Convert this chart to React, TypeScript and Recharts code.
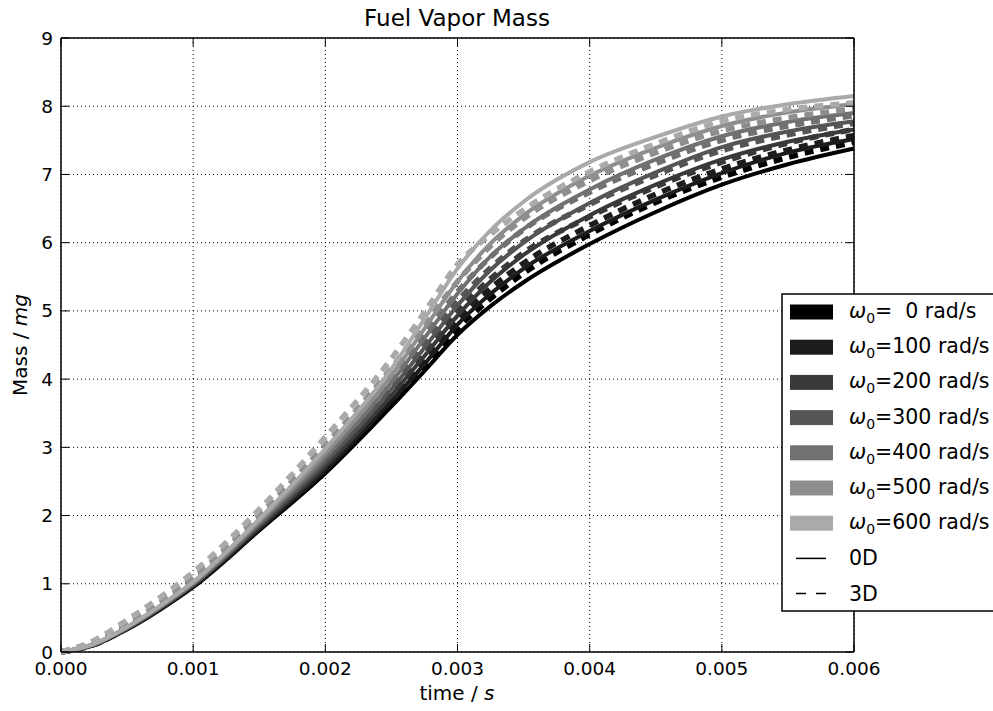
import { LineChart, Line, XAxis, YAxis, CartesianGrid, ReferenceLine } from 'recharts';

// time in seconds
const TIME = [0, 0.00025, 0.0005, 0.00075, 0.001, 0.0015, 0.002, 0.0025, 0.00275, 0.003, 0.00325, 0.0035, 0.004, 0.0045, 0.005, 0.0055, 0.006];

const OMEGAS = [0, 100, 200, 300, 400, 500, 600];
const GRAYS = ['#000000', '#1c1c1c', '#393939', '#555555', '#717171', '#8e8e8e', '#aaaaaa'];

// 0D model, fuel vapor mass in mg
const MASS_0D_W0 = [0, 0.10, 0.33, 0.62, 0.95, 1.78, 2.62, 3.60, 4.12, 4.65, 5.07, 5.42, 5.98, 6.45, 6.85, 7.15, 7.38];
const MASS_0D_W100 = [0, 0.10, 0.34, 0.63, 0.96, 1.80, 2.66, 3.68, 4.22, 4.80, 5.25, 5.62, 6.17, 6.63, 7.02, 7.32, 7.52];
const MASS_0D_W200 = [0, 0.11, 0.34, 0.64, 0.98, 1.83, 2.72, 3.76, 4.34, 4.93, 5.43, 5.82, 6.40, 6.85, 7.22, 7.48, 7.66];
const MASS_0D_W300 = [0, 0.11, 0.35, 0.65, 0.99, 1.86, 2.78, 3.85, 4.46, 5.08, 5.60, 6.00, 6.58, 7.03, 7.40, 7.63, 7.78];
const MASS_0D_W400 = [0, 0.11, 0.36, 0.66, 1.00, 1.89, 2.85, 3.95, 4.60, 5.25, 5.80, 6.20, 6.78, 7.22, 7.56, 7.77, 7.90];
const MASS_0D_W500 = [0, 0.12, 0.36, 0.67, 1.02, 1.92, 2.91, 4.05, 4.74, 5.43, 5.99, 6.40, 6.98, 7.39, 7.71, 7.91, 8.03];
const MASS_0D_W600 = [0, 0.12, 0.37, 0.68, 1.03, 1.95, 2.98, 4.15, 4.88, 5.62, 6.18, 6.60, 7.18, 7.55, 7.85, 8.03, 8.15];

// 3D model
const MASS_3D_W0 = [0, 0.11, 0.35, 0.65, 0.98, 1.82, 2.68, 3.66, 4.20, 4.74, 5.18, 5.55, 6.12, 6.59, 6.96, 7.25, 7.47];
const MASS_3D_W100 = [0, 0.11, 0.36, 0.66, 0.99, 1.85, 2.74, 3.75, 4.31, 4.87, 5.33, 5.70, 6.25, 6.71, 7.08, 7.36, 7.57];
const MASS_3D_W200 = [0, 0.12, 0.37, 0.67, 1.01, 1.88, 2.80, 3.84, 4.42, 5.00, 5.47, 5.85, 6.38, 6.82, 7.18, 7.46, 7.66];
const MASS_3D_W300 = [0, 0.12, 0.38, 0.68, 1.03, 1.92, 2.87, 3.94, 4.54, 5.14, 5.63, 6.02, 6.56, 6.99, 7.35, 7.58, 7.75];
const MASS_3D_W400 = [0, 0.13, 0.39, 0.70, 1.05, 1.96, 2.94, 4.04, 4.66, 5.28, 5.79, 6.19, 6.74, 7.16, 7.50, 7.71, 7.86];
const MASS_3D_W500 = [0, 0.14, 0.41, 0.73, 1.09, 2.01, 3.03, 4.16, 4.80, 5.43, 5.95, 6.35, 6.91, 7.32, 7.64, 7.83, 7.96];
const MASS_3D_W600 = [0, 0.17, 0.47, 0.80, 1.17, 2.09, 3.15, 4.30, 4.98, 5.68, 6.12, 6.48, 7.04, 7.45, 7.78, 7.95, 8.05];

const MASS_0D = [MASS_0D_W0, MASS_0D_W100, MASS_0D_W200, MASS_0D_W300, MASS_0D_W400, MASS_0D_W500, MASS_0D_W600];
const MASS_3D = [MASS_3D_W0, MASS_3D_W100, MASS_3D_W200, MASS_3D_W300, MASS_3D_W400, MASS_3D_W500, MASS_3D_W600];

const X_TICKS = [0, 0.001, 0.002, 0.003, 0.004, 0.005, 0.006];
const Y_TICKS = [0, 1, 2, 3, 4, 5, 6, 7, 8, 9];

const data = TIME.map((t, i) => {
  const row: Record<string, number> = { t };
  OMEGAS.forEach((w, k) => {
    row[`s${w}`] = MASS_0D[k][i];
    row[`d${w}`] = MASS_3D[k][i];
  });
  return row;
});

const W = 993;
const H = 711;
const M = { top: 38, right: 139, bottom: 0, left: 0 };
const PLOT_W = 793;
const PLOT_H = 614;
const FONT = "'DejaVu Sans', sans-serif";
const TICK_FS = 18.5;
const LABEL_FS = 20;
const LEGEND_FS = 20.5;

const XTick = ({ x, y, payload }: any) => (
  <g>
    <line x1={x} y1={y} x2={x} y2={y - 8} stroke="#000" strokeWidth={1} />
    <line x1={x} y1={y - PLOT_H} x2={x} y2={y - PLOT_H + 8} stroke="#000" strokeWidth={1} />
    <text x={x} y={y + 23} textAnchor="middle" fontFamily={FONT} fontSize={TICK_FS} fill="#000">
      {payload.value.toFixed(3)}
    </text>
  </g>
);

const YTick = ({ x, y, payload }: any) => (
  <g>
    <line x1={x} y1={y} x2={x + 8} y2={y} stroke="#000" strokeWidth={1} />
    <line x1={x + PLOT_W} y1={y} x2={x + PLOT_W - 8} y2={y} stroke="#000" strokeWidth={1} />
    <text x={x - 8} y={y + 6.5} textAnchor="end" fontFamily={FONT} fontSize={TICK_FS} fill="#000">
      {payload.value}
    </text>
  </g>
);

function LegendBox() {
  const top = 312;
  const step = 35.2;
  return (
    <g>
      <rect x={782} y={294} width={240} height={317} fill="#fff" stroke="#000" strokeWidth={1.5} />
      {OMEGAS.map((w, k) => {
        const cy = top + k * step;
        return (
          <g key={w}>
            <rect x={790} y={cy - 7.5} width={43} height={15} fill={GRAYS[k]} />
            <text x={849} y={cy + 6} fontFamily={FONT} fontSize={LEGEND_FS} fill="#000" style={{ whiteSpace: 'pre' }}>
              <tspan fontStyle="italic">ω</tspan>
              <tspan fontSize={14} dy={5}>0</tspan>
              <tspan dy={-5}>{`=${String(w).padStart(3, ' ')} rad/s`}</tspan>
            </text>
          </g>
        );
      })}
      <line x1={796} y1={top + 7 * step} x2={826} y2={top + 7 * step} stroke="#000" strokeWidth={1.5} />
      <text x={849} y={top + 7 * step + 7} fontFamily={FONT} fontSize={LEGEND_FS} fill="#000">0D</text>
      <line x1={796} y1={top + 8 * step} x2={826} y2={top + 8 * step} stroke="#000" strokeWidth={1.5} strokeDasharray="10 10" />
      <text x={849} y={top + 8 * step + 7} fontFamily={FONT} fontSize={LEGEND_FS} fill="#000">3D</text>
    </g>
  );
}

export default function App() {
  return (
    <div style={{ position: 'absolute', left: 0, top: 0, width: W, height: H, overflow: 'hidden', background: '#fff' }}>
      <LineChart width={W} height={H} data={data} margin={M}>
        <CartesianGrid stroke="#000" strokeDasharray="1 3" strokeWidth={1} />
        <XAxis
          dataKey="t"
          type="number"
          domain={[0, 0.006]}
          ticks={X_TICKS}
          height={59}
          tickSize={0}
          tickMargin={0}
          tickLine={false}
          axisLine={{ stroke: '#000', strokeWidth: 1.5 }}
          tick={<XTick />}
          interval={0}
        />
        <YAxis
          type="number"
          domain={[0, 9]}
          ticks={Y_TICKS}
          width={61}
          tickSize={0}
          tickMargin={0}
          tickLine={false}
          axisLine={{ stroke: '#000', strokeWidth: 1.5 }}
          tick={<YTick />}
          interval={0}
        />
        {OMEGAS.flatMap((w, k) => [
          <Line
            key={`s${w}`}
            dataKey={`s${w}`}
            type="monotone"
            stroke={GRAYS[k]}
            strokeWidth={4}
            dot={false}
            activeDot={false}
            isAnimationActive={false}
          />,
          <Line
            key={`d${w}`}
            dataKey={`d${w}`}
            type="monotone"
            stroke={GRAYS[k]}
            strokeWidth={5.5}
            strokeDasharray="9 7"
            strokeLinecap="butt"
            dot={false}
            activeDot={false}
            isAnimationActive={false}
          />,
        ])}
        <ReferenceLine y={9} stroke="#000" strokeWidth={1.5} />
        <ReferenceLine x={0.006} stroke="#000" strokeWidth={1.5} />
      </LineChart>
      <svg width={W} height={H} style={{ position: 'absolute', left: 0, top: 0, pointerEvents: 'none' }}>
        <text x={457} y={26} textAnchor="middle" fontFamily={FONT} fontSize={23} fill="#000">Fuel Vapor Mass</text>
        <text x={457} y={700} textAnchor="middle" fontFamily={FONT} fontSize={LABEL_FS} fill="#000">
          time / <tspan fontStyle="italic">s</tspan>
        </text>
        <text x={27} y={345} textAnchor="middle" fontFamily={FONT} fontSize={LABEL_FS} fill="#000" transform="rotate(-90 27 345)">
          Mass / <tspan fontStyle="italic">mg</tspan>
        </text>
        <LegendBox />
      </svg>
    </div>
  );
}
